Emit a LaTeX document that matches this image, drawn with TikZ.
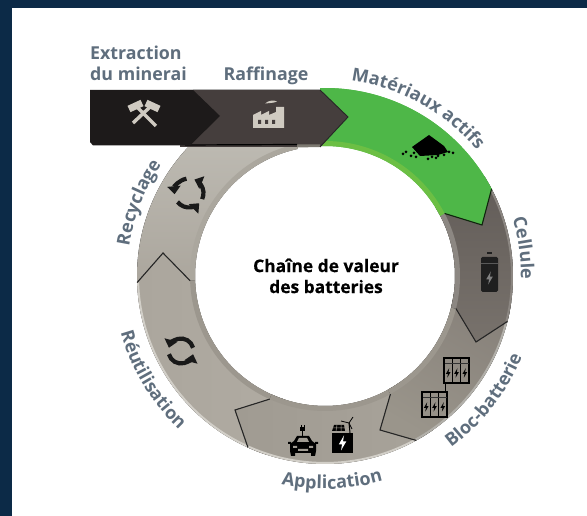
\documentclass[tikz,border=0pt]{standalone}
\usepackage{fontspec}
\setmainfont{Open Sans}
\newfontfamily\heavyfont[BoldFeatures={FakeBold=0.5}]{Open Sans}
\usetikzlibrary{decorations.text,arrows.meta}
\definecolor{navy}{HTML}{0C2A47}
\definecolor{lab}{HTML}{5F6E7D}
\definecolor{rcA}{HTML}{BDBAB2}
\definecolor{rcB}{HTML}{ABA69D}
\definecolor{ruA}{HTML}{ABA69D}
\definecolor{ruB}{HTML}{B0ABA2}
\definecolor{apA}{HTML}{A09B92}
\definecolor{apB}{HTML}{A8A39A}
\definecolor{blA}{HTML}{87817A}
\definecolor{blB}{HTML}{9A958B}
\definecolor{ceA}{HTML}{625C58}
\definecolor{ceB}{HTML}{78726C}
\definecolor{grn}{HTML}{4EB748}
\definecolor{grnlip}{HTML}{6CBF44}
\definecolor{lipgrey}{HTML}{9C978E}
\definecolor{rimlight}{HTML}{D2CFC8}
\definecolor{barA}{HTML}{1D1A1A}
\definecolor{barB}{HTML}{453E3D}
\definecolor{iconlight}{HTML}{CFCAC1}
\tikzset{
 seglabel/.style={font=\bfseries\fontsize{17.8}{21}\selectfont,text=lab,inner sep=0pt},
 centrelabel/.style={font=\heavyfont\bfseries\fontsize{17.4}{21}\selectfont,text=black,inner sep=0pt,align=center},
 tipline/.style={line width=1.1pt,line join=miter},
 lip/.style={line width=5pt,line cap=butt},
 rim/.style={line width=2pt,line cap=butt},
 cyc/.style={line width=4.2pt,draw=black!90,-{Triangle[length=8pt,width=13pt]}},
}
\newcommand{\arctext}[4]{%
 \path[decorate,decoration={text along path,text align=center,
   text={|\fontsize{18}{21}\selectfont\bfseries\color{lab}|#1}}]
   (#2:#4pt) arc[start angle=#2,end angle=#3,radius=#4pt];}
% a0, a1, tipx, tipy, shading options, lip colour, rim colour, line colour
\newcommand{\seg}[8]{%
 \fill[#5] (#1:188pt) arc[start angle=#1,end angle=#2,radius=188pt]
   -- (#3pt,#4pt) -- (#2:135pt) -- (#2:130pt)
   arc[start angle=#2,end angle=#1,radius=130pt] -- cycle;
 \draw[lip,draw=#6] (#1:132.5pt) arc[start angle=#1,end angle=#2,radius=132.5pt];
 \draw[rim,draw=#7] (#1:187pt) arc[start angle=#1,end angle=#2,radius=187pt];
 \draw[tipline,draw=#8] (#2:188pt) -- (#3pt,#4pt) -- (#2:135pt);}
\newcommand{\bolt}[4]{%
 \fill[#4,shift={(#1,#2)},scale=#3] (1,-5) -- (-2.5,1) -- (-0.3,1) -- (-1,5) -- (2.5,-1) -- (0.3,-1) -- cycle;}
\newcommand{\battpack}[2]{%
 \begin{scope}[shift={(#1,#2)}]
  \draw[black,line width=1.3pt] (0,0) rectangle (25,25);
  \draw[black,line width=0.9pt] (8.3,0) -- (8.3,25) (16.6,0) -- (16.6,25);
  \fill[black] (0,0) rectangle (25,1.5);
  \draw[black!80,line width=0.7pt] (0.5,5) -- (24.5,5);
  \bolt{4.2}{15}{0.95}{black}
  \bolt{12.5}{15}{0.95}{black}
  \bolt{20.8}{15}{0.95}{black}
 \end{scope}}
\begin{document}
\begin{tikzpicture}[x=1pt,y=1pt]
\useasboundingbox (0,0) rectangle (587,516);
\fill[navy] (0,0) rectangle (587,516);
\fill[white] (12,0) rectangle (587,508);
% ---------- ring, centred at pixel (325,276)
\begin{scope}[shift={(325,240)}]
 % Recyclage (runs under the bar)
 \fill[top color=rcA,bottom color=rcB] (182:188pt) arc[start angle=182,end angle=135.9,radius=188pt]
   -- (-135pt,136pt) -- (-27pt,136pt) -- (102:130pt)
   arc[start angle=102,end angle=182,radius=130pt] -- cycle;
 \draw[lip,draw=lipgrey!55!rcA] (102:132.5pt) arc[start angle=102,end angle=182,radius=132.5pt];
 \seg{-108}{-178}{-162}{23}{left color=ruA,right color=ruB}{lipgrey}{rimlight}{black!85}
 \seg{-55}{-114.2}{-90}{-134}{left color=apA,right color=apB}{lipgrey}{rimlight}{black!85}
 \seg{-8}{-61}{55}{-154}{left color=blA,right color=blB,shading angle=-30}{lipgrey}{rimlight!85!black}{black!85}
 \seg{32}{-14}{151}{-66}{top color=ceA,bottom color=ceB}{ceB!85!white}{ceB!85!white}{black!85}
 \seg{91.5}{27.6}{157}{51}{fill=grn}{grnlip}{grn}{black!80!grn}
\end{scope}
% ---------- bar and icons, in image pixels (y down)
\begin{scope}[shift={(0,516)},y=-1pt]
 % Raffinage
 \fill[barB] (180,90) -- (320,90) -- (348,117) -- (320,147) -- (180,147) -- cycle;
 \fill[lipgrey!80!black] (297,144.5) -- (320,144.5) -- (320,147) -- (297,147.5) -- cycle;
 \draw[black!85,line width=0.9pt] (320,147) -- (348,117) -- (320,90);
 \draw[black,line width=1.2pt] (185,145) -- (297,144.5);
 % Extraction
 \fill[barA] (90,90) -- (193,90) -- (220,116) -- (190,145.5) -- (93,145.5) -- (90,142) -- cycle;
 \draw[white!70!black,line width=0.5pt] (193,89.7) -- (320,89.7);
 % hammers
 \draw[iconlight,line width=3.5pt] (137,107) -- (156,126);
 \draw[iconlight,line width=3.5pt] (150,107) -- (133,123);
 \draw[iconlight,line width=7pt] (129,109) -- (142,103);
 \draw[iconlight,line width=7pt] (146,103) -- (159,109);
 % factory
 \fill[iconlight] (253,128) -- (253,115) -- (261,111) -- (261,115) -- (269,111) -- (269,115) -- (276,112)
   -- (276,107) -- (284,107) -- (284,128) -- cycle;
 \fill[barB] (258,120) rectangle (261,124) (265,120) rectangle (268,124) (272,120) rectangle (275,124);
 \fill[iconlight] (265,103.5) .. controls (269,100) and (274,100) .. (277,101.5)
   .. controls (274,103) and (270,103) .. (265,103.5) -- cycle;
 % powder
 \fill[black] (429,135) -- (444,146) -- (448,152) -- (438,155) -- (420,156) -- (412,147) -- cycle;
 \foreach \a/\b in {406/152,411/156,416/157,428/159,432/157,438/156,444/155,449/152,453/153,403/154,414/153,436/158}
   \fill[black] (\a,\b) circle (1.5);
 % battery cell
 \fill[black!88] (487,252) rectangle (492,254);
 \fill[black!88,rounded corners=1.5pt] (481,257) rectangle (498,292);
 \draw[black!65,line width=0.5pt] (481,263) -- (498,263);
 \bolt{489.5}{278}{1.3}{black!50}
 % battery packs
 \draw[black,line width=0.8pt] (445,383) -- (445,392);
 \battpack{444}{358}
 \battpack{422}{392}
 % car
 \fill[black] (290,451) -- (290,444) -- (294,441) -- (297,436) -- (309,436) -- (312,441) -- (316,444) -- (316,451) -- (315,456) -- (311,456) -- (311,453)
   -- (295,453) -- (295,456) -- (291,456) -- cycle;
 \fill[black] (288,442) rectangle (291,444) (315,442) rectangle (318,444);
 \fill[apA] (297,442) -- (299,438) -- (307,438) -- (309,442) -- cycle;
 \fill[apA] (293,446) rectangle (297,448) (309,446) rectangle (313,448) (298,449) rectangle (308,451);
 \fill[black] (300,427) rectangle (305,431);
 \draw[black,line width=0.9pt] (301,425) -- (301,428) (304,425) -- (304,428) (302.5,431) -- (302.5,436);
 % storage box, solar panel, turbine
 \fill[black] (332,433) rectangle (353,453);
 \bolt{342.5}{443}{1.5}{white}
 \fill[black] (332,431) -- (334,425) -- (344,425) -- (345,431) -- cycle;
 \draw[apA,line width=0.5pt] (333,428) -- (345,428) (337,425) -- (336,431) (341,425) -- (341,431);
 \draw[black,line width=1pt] (350,433) -- (349,423);
 \draw[black,line width=0.8pt] (349,423) -- (353,417) (349,423) -- (341,421) (349,423) -- (352,429);
\end{scope}
% ---------- circular-arrow icons
\begin{scope}[shift={(189,323)}]
 \draw[cyc] (-25:14.5pt) arc[start angle=-25,end angle=68,radius=14.5pt];
 \draw[cyc] (100:14.5pt) arc[start angle=100,end angle=185,radius=14.5pt];
 \draw[cyc] (218:14.5pt) arc[start angle=218,end angle=315,radius=14.5pt];
\end{scope}
\begin{scope}[shift={(181,165)}]
 \draw[cyc] (15:12.5pt) arc[start angle=15,end angle=165,radius=12.5pt];
 \draw[cyc] (195:12.5pt) arc[start angle=195,end angle=345,radius=12.5pt];
\end{scope}
% ---------- labels
\node[seglabel,anchor=base west,align=left] (extract) at (90,456) {Extraction};
\node[seglabel,anchor=base west,align=left] (minerai) at (90,435) {du minerai};
\node[seglabel,anchor=base] (raff) at (266,435) {Raffinage};
\node[centrelabel] (centre) at (326,240) {Chaîne de valeur\\des batteries};
\begin{scope}[shift={(325,240)}]
 \arctext{Matériaux actifs}{101}{21}{197}
 \arctext{Cellule}{38}{-22}{196}
 \arctext{Bloc-batterie}{-78}{2}{213}
 \arctext{Application}{-128}{-48}{213}
 \arctext{Réutilisation}{171}{251}{212}
 \arctext{Recyclage}{198.5}{118.5}{198}
\end{scope}
\end{tikzpicture}
\end{document}
